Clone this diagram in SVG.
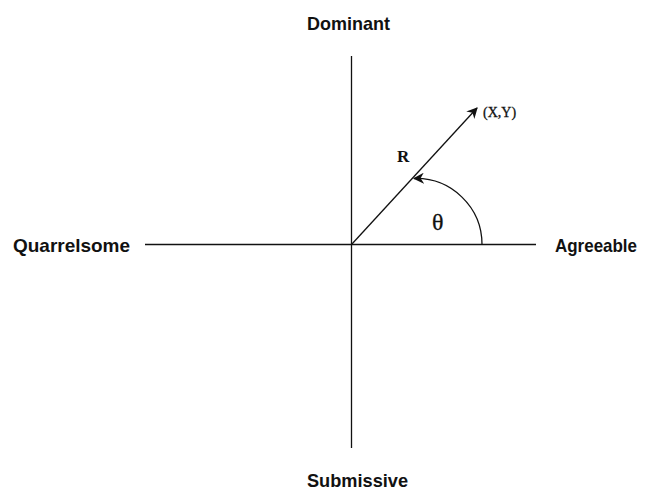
<svg xmlns="http://www.w3.org/2000/svg" width="650" height="491" viewBox="0 0 650 491">
<defs>
<style>
.ax{stroke:#111;stroke-width:1.3;fill:none}
.lbl{font-family:"Liberation Sans",Arial,sans-serif;font-weight:bold;font-size:19px;fill:#111}
.ser{font-family:"Liberation Serif","Times New Roman",serif;fill:#111}
</style>
<marker id="ah" viewBox="0 0 10 10" refX="9" refY="5" markerWidth="11" markerHeight="11" markerUnits="userSpaceOnUse" orient="auto">
<path d="M0,0 L10,5 L0,10 L3,5 Z" fill="#111"/>
</marker>
</defs>
<rect width="650" height="491" fill="#fff"/>
<g id="connectors">
<line class="ax" x1="351.5" y1="56" x2="351.5" y2="448"/>
<line class="ax" x1="145" y1="244.5" x2="536" y2="244.5"/>
<line class="ax" x1="351.5" y1="244.5" x2="477" y2="108" marker-end="url(#ah)"/>
<path class="ax" d="M482,244.5 A66,66 0 0 0 414,178.5" marker-end="url(#ah)"/>
</g>
<g id="dominant"><text class="lbl" x="307" y="30" textLength="83" lengthAdjust="spacingAndGlyphs">Dominant</text></g>
<g id="submissive"><text class="lbl" x="307" y="487" textLength="101" lengthAdjust="spacingAndGlyphs">Submissive</text></g>
<g id="quarrelsome"><text class="lbl" x="13" y="252" textLength="117" lengthAdjust="spacingAndGlyphs">Quarrelsome</text></g>
<g id="agreeable"><text class="lbl" x="555" y="252" textLength="82" lengthAdjust="spacingAndGlyphs">Agreeable</text></g>
<g id="xy"><text class="ser" x="483" y="117" font-size="14" stroke="#111" stroke-width="0.3">(X,Y)</text></g>
<g id="r"><text class="ser" x="397" y="162" font-size="17" font-weight="bold">R</text></g>
<g id="theta"><text class="ser" x="432" y="230" font-size="24" stroke="#111" stroke-width="0.3">θ</text></g>
</svg>
